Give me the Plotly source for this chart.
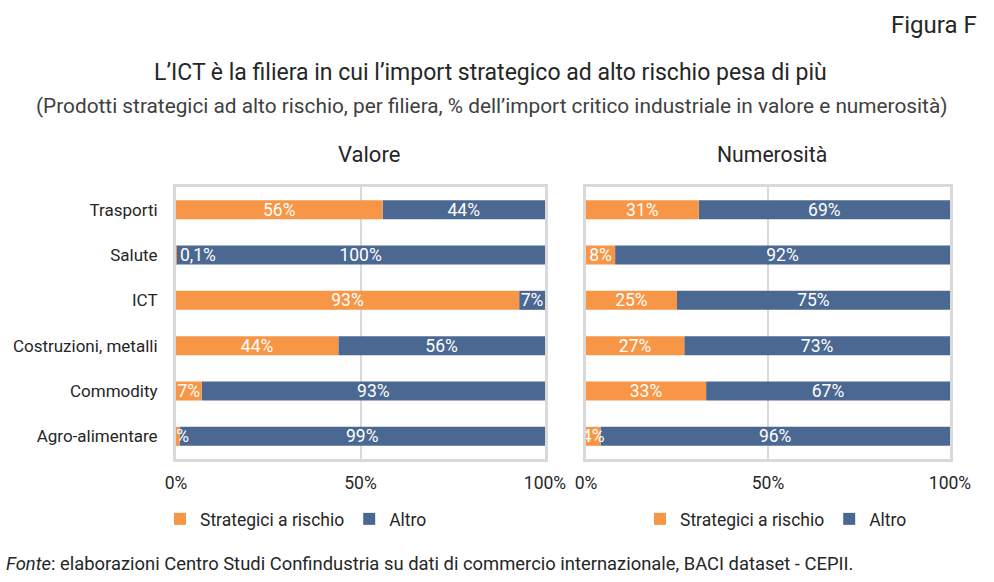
import plotly.graph_objects as go

categories = ["Trasporti", "Salute", "ICT", "Costruzioni, metalli", "Commodity", "Agro-alimentare"]

valore_strategici = [56, 0.1, 93, 44, 7, 1]
valore_altro = [44, 99.9, 7, 56, 93, 99]
valore_strategici_lbl = ["56%", "0,1%", "93%", "44%", "7%", "1%"]
valore_altro_lbl = ["44%", "100%", "7%", "56%", "93%", "99%"]

numer_strategici = [31, 8, 25, 27, 33, 4]
numer_altro = [69, 92, 75, 73, 67, 96]
numer_strategici_lbl = ["31%", "8%", "25%", "27%", "33%", "4%"]
numer_altro_lbl = ["69%", "92%", "75%", "73%", "67%", "96%"]

tick_vals = [0, 50, 100]
tick_text = ["0%", "50%", "100%"]

ORANGE = "#F79646"
BLUE = "#4A6891"
FONT = "Roboto"
TXT = "#262626"
BAR_FS = 17.5

fig = go.Figure()

def add_panel(strat, altro, strat_lbl, altro_lbl, xa, ya, legend):
    fig.add_trace(go.Bar(
        y=categories, x=altro, base=strat, orientation="h",
        name="Altro", marker=dict(color=BLUE, line=dict(width=0)),
        text=altro_lbl, textposition="inside", insidetextanchor="middle",
        textangle=0, constraintext="none",
        textfont=dict(color="white", size=BAR_FS, family=FONT),
        xaxis=xa, yaxis=ya, legend=legend, legendrank=2, hoverinfo="skip"))
    pos = ["outside" if v < 0.5 else "inside" for v in strat]
    fig.add_trace(go.Bar(
        y=categories, x=strat, orientation="h",
        name="Strategici a rischio", marker=dict(color=ORANGE, line=dict(width=0)),
        text=strat_lbl, textposition=pos, insidetextanchor="middle",
        textangle=0, constraintext="none",
        textfont=dict(color="white", size=BAR_FS, family=FONT),
        outsidetextfont=dict(color="white", size=BAR_FS, family=FONT),
        xaxis=xa, yaxis=ya, legend=legend, legendrank=1, hoverinfo="skip"))

add_panel(valore_strategici, valore_altro, valore_strategici_lbl, valore_altro_lbl, "x", "y", "legend")
add_panel(numer_strategici, numer_altro, numer_strategici_lbl, numer_altro_lbl, "x2", "y2", "legend2")

y_top = 1 - 187 / 582
y_bot = 1 - 459 / 582

xcommon = dict(range=[0, 100], tickvals=tick_vals, ticktext=tick_text,
               showgrid=True, gridcolor="#D9D9D9", gridwidth=1.5,
               showline=True, mirror=True, linecolor="#D9D9D9", linewidth=3,
               zeroline=False, ticks="", ticklabelstandoff=6,
               tickfont=dict(size=17.5, family=FONT, color=TXT), fixedrange=True)
ycommon = dict(categoryorder="array", categoryarray=categories, autorange="reversed",
               showline=True, mirror=True, linecolor="#D9D9D9", linewidth=3,
               showgrid=False, ticks="", fixedrange=True,
               domain=[y_bot, y_top])

fig.update_layout(
    width=994, height=582, autosize=False,
    margin=dict(l=0, r=0, t=0, b=0, autoexpand=False),
    paper_bgcolor="white", plot_bgcolor="white",
    barmode="overlay", bargap=0.58,
    font=dict(family=FONT, color=TXT),
    xaxis=dict(domain=[176 / 994, 545 / 994], anchor="y", automargin=False, **xcommon),
    xaxis2=dict(domain=[586 / 994, 950 / 994], anchor="y2", automargin=False, **xcommon),
    yaxis=dict(anchor="x", ticklabelstandoff=12, automargin=False,
               tickfont=dict(size=17, family=FONT, color=TXT), **ycommon),
    yaxis2=dict(anchor="x2", showticklabels=False, automargin=False, **ycommon),
    legend=dict(orientation="h", x=160 / 994, xanchor="left", y=1 - 519 / 582, yanchor="middle",
                font=dict(size=17.5, family=FONT, color=TXT), bgcolor="rgba(0,0,0,0)"),
    legend2=dict(orientation="h", x=640 / 994, xanchor="left", y=1 - 519 / 582, yanchor="middle",
                 font=dict(size=17.5, family=FONT, color=TXT), bgcolor="rgba(0,0,0,0)"),
    showlegend=True,
)

annotations = [
    dict(text="Figura F", x=979 / 994, y=1 - 25 / 582, xanchor="right", yanchor="middle",
         font=dict(size=24, family=FONT, color=TXT)),
    dict(text="L’ICT è la filiera in cui l’import strategico ad alto rischio pesa di più",
         x=490 / 994, y=1 - 72 / 582, xanchor="center", yanchor="middle",
         font=dict(size=23, family=FONT, color=TXT)),
    dict(text="(Prodotti strategici ad alto rischio, per filiera, % dell’import critico industriale in valore e numerosità)",
         x=491 / 994, y=1 - 106 / 582, xanchor="center", yanchor="middle",
         font=dict(size=20.8, family=FONT, color="#404040")),
    dict(text="Valore", x=369 / 994, y=1 - 155 / 582, xanchor="center", yanchor="middle",
         font=dict(size=22, family=FONT, color=TXT)),
    dict(text="Numerosità", x=772 / 994, y=1 - 155 / 582, xanchor="center", yanchor="middle",
         font=dict(size=21.2, family=FONT, color=TXT)),
    dict(text="<i>Fonte</i>: elaborazioni Centro Studi Confindustria su dati di commercio internazionale, BACI dataset - CEPII.",
         x=4 / 994, y=1 - 563 / 582, xanchor="left", yanchor="middle",
         font=dict(size=18.4, family=FONT, color=TXT)),
]
for a in annotations:
    fig.add_annotation(xref="paper", yref="paper", showarrow=False, **a)

fig.write_html("out.html")
